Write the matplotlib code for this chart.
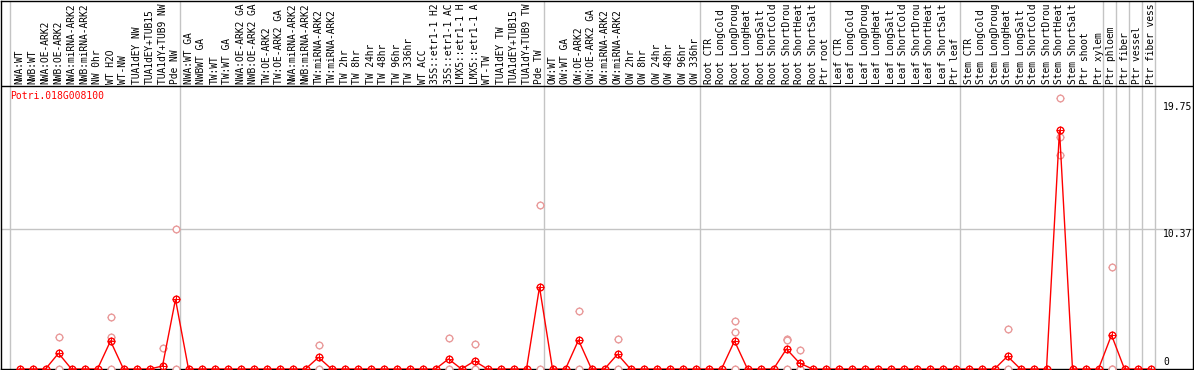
import matplotlib
matplotlib.use('Agg')
import matplotlib.pyplot as plt
import matplotlib.transforms as mtransforms

gene = 'Potri.018G008100'

# sample names as shown in the header (cut to 14 characters there)
labels = ['NWA:WT', 'NWB:WT', 'NWA:OE-ARK2', 'NWB:OE-ARK2', 'NWA:miRNA-ARK2', 'NWB:miRNA-ARK2',
          'NW 0hr', 'WT H2O', 'WT-NW', 'TUA1dEY NW', 'TUA1dEY+TUB15', 'TUA1dY+TUB9 NW', 'Pde NW',
          'NWA:WT GA', 'NWBWT GA', 'TW:WT', 'TW:WT GA', 'NWA:OE-ARK2 GA', 'NWB:OE-ARK2 GA',
          'TW:OE-ARK2', 'TW:OE-ARK2 GA', 'NWA:miRNA-ARK2', 'NWB:miRNA-ARK2', 'TW:miRNA-ARK2',
          'TW:miRNA-ARK2', 'TW 2hr', 'TW 8hr', 'TW 24hr', 'TW 48hr', 'TW 96hr', 'TW 336hr',
          'WT ACC', '35S::etr1-1 H2', '35S::etr1-1 AC', 'LMX5::etr1-1 H', 'LMX5::etr1-1 A',
          'WT-TW', 'TUA1dEY TW', 'TUA1dEY+TUB15', 'TUA1dY+TUB9 TW', 'Pde TW',
          'OW:WT', 'OW:WT GA', 'OW:OE-ARK2', 'OW:OE-ARK2 GA', 'OW:miRNA-ARK2', 'OW:miRNA-ARK2',
          'OW 2hr', 'OW 8hr', 'OW 24hr', 'OW 48hr', 'OW 96hr', 'OW 336hr',
          'Root CTR', 'Root LongCold', 'Root LongDroug', 'Root LongHeat', 'Root LongSalt',
          'Root ShortCold', 'Root ShortDrou', 'Root ShortHeat', 'Root ShortSalt', 'Ptr root',
          'Leaf CTR', 'Leaf LongCold', 'Leaf LongDroug', 'Leaf LongHeat', 'Leaf LongSalt',
          'Leaf ShortCold', 'Leaf ShortDrou', 'Leaf ShortHeat', 'Leaf ShortSalt', 'Ptr leaf',
          'Stem CTR', 'Stem LongCold', 'Stem LongDroug', 'Stem LongHeat', 'Stem LongSalt',
          'Stem ShortCold', 'Stem ShortDrou', 'Stem ShortHeat', 'Stem ShortSalt', 'Ptr shoot',
          'Ptr xylem', 'Ptr phloem', 'Ptr fiber', 'Ptr vessel', 'Ptr fiber vess']

# samples per block (grey separators after each block)
group_sizes = [13, 28, 12, 10, 10, 11, 1, 1, 1, 1]

# mean expression per sample (zeros where nothing is plotted above baseline)
means = [0] * len(labels)
means[3] = 1.16
means[7] = 2.07
means[11] = 0.22
means[12] = 5.15
means[23] = 0.86
means[33] = 0.74
means[35] = 0.59
means[40] = 6.06
means[43] = 2.14
means[46] = 1.09
means[55] = 2.07
means[59] = 1.48
means[60] = 0.44
means[76] = 0.94
means[80] = 17.66
means[84] = 2.51

# individual replicates (sample index -> values)
reps = {
    3: [2.34, 0],
    7: [3.82, 2.39, 0],
    11: [1.53],
    12: [10.35, 0],
    23: [1.75, 0],
    33: [2.27, 0],
    35: [1.83, 0],
    40: [12.12, 0],
    43: [4.29, 0],
    46: [2.22, 0],
    55: [3.55, 2.71, 0],
    59: [2.22, 2.14, 0],
    60: [1.40, 0],
    76: [2.96, 0],
    80: [20.0, 17.15, 15.82],
    84: [7.52, 0, 0],
}

yticks = [0, 10.37, 19.75]

W, H = 1194, 370
fig = plt.figure(figsize=(W / 100, H / 100), dpi=100)
ax = fig.add_axes([1 / W, 1 / H, 1192 / W, 368 / H])

# 13 px per sample, first sample 19.5 px from the left edge
xmin = -18.5 / 13
ax.set_xlim(xmin, xmin + 1192 / 13)
ppu = 13.53
ax.set_ylim(0, 368 / ppu)
ax.set_xticks([])
ax.set_yticks([])
for s in ax.spines.values():
    s.set_color('black')
    s.set_linewidth(1.0)

mono = 'DejaVu Sans Mono'
head_y = (369 - 86) / ppu

# separators
edges = [-0.73]
pos = -1
for g in group_sizes:
    pos += g
    edges.append(pos + 0.35)
for e in edges:
    ax.axvline(e, color='#c4c4c4', lw=1.0, zorder=1)
ax.axhline(yticks[1], color='#c4c4c4', lw=1.0, zorder=1)
ax.axhline(head_y, color='black', lw=1.0, zorder=2)

# header labels
for i, lab in enumerate(labels):
    ax.text(i, (369 - 84) / ppu, lab, rotation=90, ha='center', va='bottom',
            family=mono, fontsize=6.9, color='black')

ax.text(-0.73, (369 - 96) / ppu, gene, color='red', family=mono, fontsize=7,
        ha='left', va='center')

# y labels on the right
tr = mtransforms.blended_transform_factory(ax.transAxes, ax.transData)
xl = (1163 - 1) / 1192
ax.text(xl, yticks[2] - 0.05, f'{yticks[2]:.2f}', transform=tr, family=mono, fontsize=7,
        ha='left', va='top')
ax.text(xl, yticks[1] - 0.05, f'{yticks[1]:.2f}', transform=tr, family=mono, fontsize=7,
        ha='left', va='top')
ax.text(xl, 0.5, '0', transform=tr, family=mono, fontsize=7, ha='left', va='center')

# replicates
pink = '#e99a9a'
rx, ry = [], []
for k, vals in reps.items():
    for v in vals:
        rx.append(k)
        ry.append(v)
ax.plot(rx, ry, ls='none', marker='+', ms=6, mew=0.7, color=pink, zorder=3)
ax.plot(rx, ry, ls='none', marker='o', ms=4.8, mfc='white', mec=pink, mew=1.0, zorder=3)

# mean line
x = list(range(len(labels)))
ax.plot(x, means, color='red', lw=1.0, zorder=4)
ax.plot(x, means, ls='none', marker='+', ms=6, mew=0.7, color='red', zorder=5)
ax.plot(x, means, ls='none', marker='o', ms=4.8, mfc='none', mec='red', mew=1.0, zorder=5)

fig.savefig('out.png', dpi=100)
